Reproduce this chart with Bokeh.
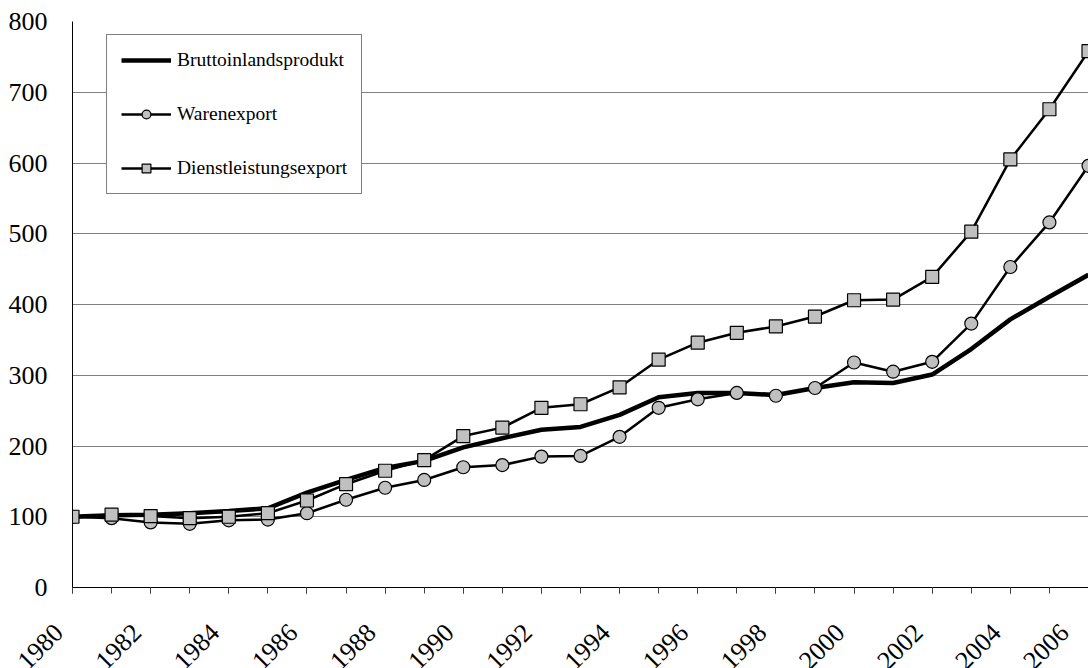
import math
from bokeh.plotting import figure
from bokeh.models import Range1d, FixedTicker, Legend, LegendItem
from bokeh.embed import file_html
from bokeh.resources import INLINE

years = list(range(1980, 2007))
bip = [100, 102, 103, 105, 108, 112, 134, 152, 169, 179, 198, 211, 223, 227,
       244, 269, 275, 275, 272, 282, 290, 289, 301, 337, 379, 411, 442]
waren = [100, 98, 92, 90, 95, 96, 105, 124, 141, 152, 170, 173, 185, 186,
         213, 254, 266, 275, 271, 282, 318, 305, 319, 373, 453, 516, 596]
dienst = [100, 103, 101, 98, 100, 105, 123, 146, 165, 180, 214, 226, 254, 259,
          283, 322, 346, 360, 369, 383, 406, 407, 439, 503, 605, 676, 758]
label_years = list(range(1980, 2007, 2))
y_ticks = [0, 100, 200, 300, 400, 500, 600, 700, 800]
names = ["Bruttoinlandsprodukt", "Warenexport", "Dienstleistungsexport"]

FONT = "Liberation Serif"

p = figure(frame_width=1016, frame_height=566, output_backend="svg",
           toolbar_location=None,
           x_range=Range1d(1980, 2006), y_range=Range1d(0, 800),
           min_border_left=72, min_border_right=0, min_border_top=21,
           min_border_bottom=0)
p.outline_line_color = None
p.background_fill_color = "white"
p.border_fill_color = "white"

# x axis: ticks every year, labels every second year
xa = p.xaxis[0]
xa.ticker = FixedTicker(ticks=label_years, minor_ticks=years)
# trailing no-break spaces shift the rotated year labels slightly left
xa.major_label_overrides = {y: str(y) + "\u00a0\u00a0\u00a0" for y in label_years}
xa.major_label_orientation = math.pi / 4
xa.major_label_text_font = FONT
xa.major_label_text_font_size = "26px"
xa.major_label_text_color = "black"
xa.major_label_standoff = 21
xa.major_tick_out = 6
xa.major_tick_in = 0
xa.minor_tick_out = 6
xa.minor_tick_in = 0
xa.major_tick_line_color = "#404040"
xa.minor_tick_line_color = "#404040"
xa.axis_line_color = "black"

ya = p.yaxis[0]
ya.ticker = FixedTicker(ticks=y_ticks)
ya.major_label_text_font = FONT
ya.major_label_text_font_size = "26px"
ya.major_label_text_color = "black"
ya.major_tick_out = 0
ya.major_tick_in = 0
ya.minor_tick_out = 0
ya.minor_tick_in = 0
ya.axis_line_color = "black"
ya.major_label_standoff = 25

p.xgrid.grid_line_color = None
p.ygrid.grid_line_color = "#808080"
p.ygrid.grid_line_width = 1

r_bip = p.line(years, bip, line_color="black", line_width=4.5)
r_w_line = p.line(years, waren, line_color="black", line_width=2.5)
r_w_pts = p.scatter(years, waren, marker="circle", size=13, fill_color="#c0c0c0",
                    line_color="black", line_width=1.2)
r_d_line = p.line(years, dienst, line_color="black", line_width=2.5)
r_d_pts = p.scatter(years, dienst, marker="square", size=13, fill_color="#c0c0c0",
                    line_color="black", line_width=1.2)

legend = Legend(items=[
    LegendItem(label=names[0], renderers=[r_bip]),
    LegendItem(label=names[1], renderers=[r_w_line, r_w_pts]),
    LegendItem(label=names[2], renderers=[r_d_line, r_d_pts]),
], location=(34, 393))
legend.label_text_font = FONT
legend.label_text_font_size = "19.5px"
legend.label_text_color = "black"
legend.border_line_color = "black"
legend.border_line_width = 1
legend.background_fill_color = "white"
legend.background_fill_alpha = 1
legend.glyph_width = 50
legend.glyph_height = 22
legend.spacing = 32
legend.padding = 14
legend.margin = 0
legend.label_standoff = 6
p.add_layout(legend, "center")

open("out.html", "w").write(file_html(p, INLINE))
